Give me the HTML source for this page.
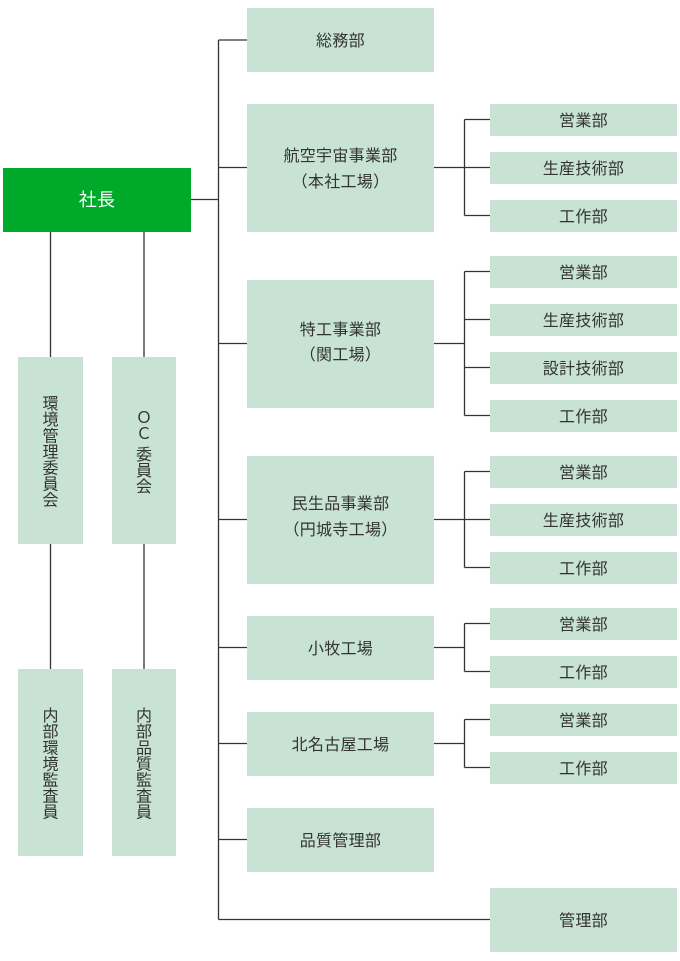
<!DOCTYPE html>
<html lang="ja"><head><meta charset="utf-8"><style>
html,body{margin:0;padding:0;background:#fff}
#c{position:relative;width:680px;height:961px;overflow:hidden;font-family:"Liberation Sans","Noto Sans CJK JP",sans-serif;font-size:16px;color:#333;letter-spacing:.3px}
.b{position:absolute;background:#c8e3d3;display:flex;align-items:center;justify-content:center;text-align:center;line-height:25px;box-sizing:border-box;padding-top:2px}
.m{padding-top:0;display:block}
.m span{display:block;position:absolute;left:0;right:0;height:25px;line-height:25px}
.v{writing-mode:vertical-rl;line-height:16px;letter-spacing:.1px;padding:3px 6px 0 0}
svg{position:absolute;left:0;top:0}
</style></head><body><div id="c">
<svg width="680" height="961" fill="none" stroke="#333" stroke-width="1.3">
<path d="M50.5 231V357M144 231V357M50.5 543V669M144 543V669"/>
<path d="M191 199.5H218.5M218.5 40V919.5M218.5 40H247M218.5 167.5H247M218.5 343.5H247M218.5 519.5H247M218.5 647.5H247M218.5 743.5H247M218.5 839.5H247M218.5 919.5H490"/>
<path d="M434 167.5H490M464.5 119.5V215.5M464.5 119.5H490M464.5 215.5H490"/>
<path d="M434 343.5H464.5M464.5 271.5V415.5M464.5 271.5H490M464.5 319.5H490M464.5 367.5H490M464.5 415.5H490"/>
<path d="M434 519.5H490M464.5 471.5V567.5M464.5 471.5H490M464.5 567.5H490"/>
<path d="M434 647.5H464.5M464.5 623.5V671.5M464.5 623.5H490M464.5 671.5H490"/>
<path d="M434 743.5H464.5M464.5 719.5V767.5M464.5 719.5H490M464.5 767.5H490"/>
</svg>
<div class="b" style="left:3px;top:167.5px;width:188px;height:64px;background:#00a92a;color:#fff;font-size:18px;padding-top:1px">社長</div>
<div class="b v" style="left:18px;top:356.5px;width:65px;height:187px">環境管理委員会</div>
<div class="b v" style="left:112px;top:356.5px;width:64px;height:187px">ＯＣ 委員会</div>
<div class="b v" style="left:18px;top:668.5px;width:65px;height:187px">内部環境監査員</div>
<div class="b v" style="left:112px;top:668.5px;width:64px;height:187px">内部品質監査員</div>

<div class="b" style="left:247px;top:8px;width:187px;height:64px">総務部</div>
<div class="b m" style="left:247px;top:104px;width:187px;height:128px"><span style="top:40px">航空宇宙事業部</span><span style="top:66px">（本社工場）</span></div>
<div class="b m" style="left:247px;top:280px;width:187px;height:128px"><span style="top:38px">特工事業部</span><span style="top:63px">（関工場）</span></div>
<div class="b m" style="left:247px;top:456px;width:187px;height:128px"><span style="top:36px">民生品事業部</span><span style="top:62px">（円城寺工場）</span></div>
<div class="b" style="left:247px;top:616px;width:187px;height:64px">小牧工場</div>
<div class="b" style="left:247px;top:712px;width:187px;height:64px">北名古屋工場</div>
<div class="b" style="left:247px;top:808px;width:187px;height:64px">品質管理部</div>

<div class="b" style="left:490px;top:104px;width:187px;height:32px">営業部</div>
<div class="b" style="left:490px;top:152px;width:187px;height:32px">生産技術部</div>
<div class="b" style="left:490px;top:200px;width:187px;height:32px">工作部</div>
<div class="b" style="left:490px;top:256px;width:187px;height:32px">営業部</div>
<div class="b" style="left:490px;top:304px;width:187px;height:32px">生産技術部</div>
<div class="b" style="left:490px;top:352px;width:187px;height:32px">設計技術部</div>
<div class="b" style="left:490px;top:400px;width:187px;height:32px">工作部</div>
<div class="b" style="left:490px;top:456px;width:187px;height:32px">営業部</div>
<div class="b" style="left:490px;top:504px;width:187px;height:32px">生産技術部</div>
<div class="b" style="left:490px;top:552px;width:187px;height:32px">工作部</div>
<div class="b" style="left:490px;top:608px;width:187px;height:32px">営業部</div>
<div class="b" style="left:490px;top:656px;width:187px;height:32px">工作部</div>
<div class="b" style="left:490px;top:704px;width:187px;height:32px">営業部</div>
<div class="b" style="left:490px;top:752px;width:187px;height:32px">工作部</div>
<div class="b" style="left:490px;top:888px;width:187px;height:64px">管理部</div>
</div></body></html>
